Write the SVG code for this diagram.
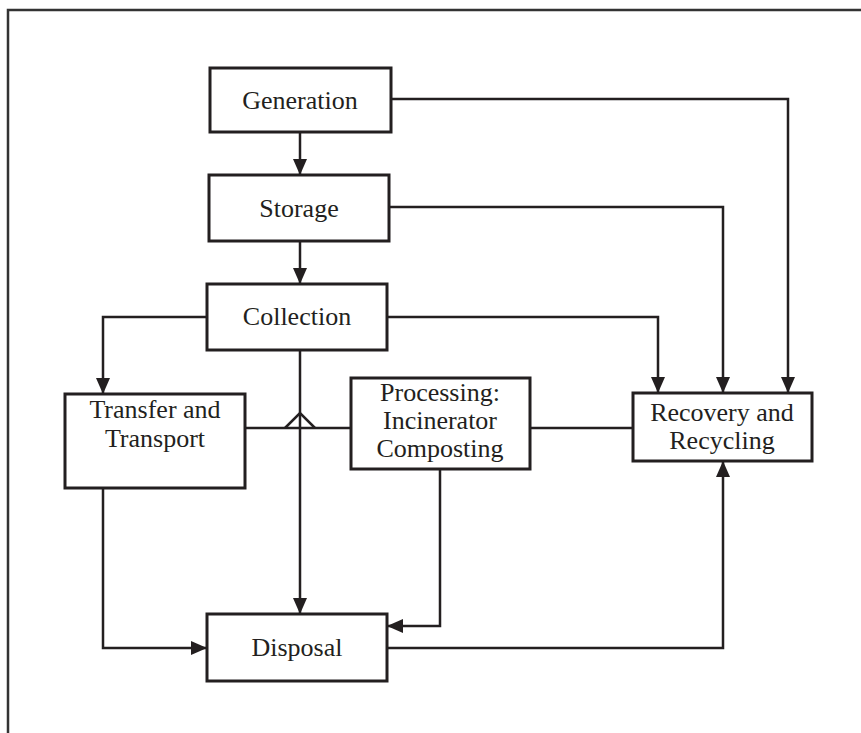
<svg xmlns="http://www.w3.org/2000/svg" width="861" height="733" viewBox="0 0 861 733">
<style>
.box{fill:#fff;stroke:#231f20;stroke-width:3}
.ln{fill:none;stroke:#231f20;stroke-width:2.5}
.arr{marker-end:url(#ah)}
text{font-family:"Liberation Serif","Times New Roman",serif;font-size:26px;fill:#231f20;text-anchor:middle}
</style>
<defs>
<marker id="ah" viewBox="0 0 16 14" refX="16" refY="7" markerWidth="16" markerHeight="14" markerUnits="userSpaceOnUse" orient="auto">
<path d="M0,0 L16,7 L0,14 z" fill="#231f20"/>
</marker>
</defs>
<rect x="0" y="0" width="861" height="733" fill="#fff"/>
<rect x="8" y="10" width="900" height="800" fill="none" stroke="#333" stroke-width="2.5"/>
<g id="connectors">
<path class="ln arr" d="M300,132 V175"/>
<path class="ln arr" d="M300,241 V284"/>
<path class="ln arr" d="M391,99 H788 V393"/>
<path class="ln arr" d="M389,207 H723 V393"/>
<path class="ln arr" d="M387,317 H658 V393"/>
<path class="ln arr" d="M207,317 H103 V394"/>
<path class="ln arr" d="M300,350 V614"/>
<path class="ln" d="M245,428 H351"/>
<path class="ln" d="M285,428 L300,413 L315,428"/>
<path class="ln" d="M530,428 H633"/>
<path class="ln arr" d="M440,469 V626 H387"/>
<path class="ln arr" d="M103,488 V648 H207"/>
<path class="ln arr" d="M387,648 H723 V461"/>
</g>
<g id="generation"><rect class="box" x="210" y="68" width="181" height="64"/><text x="300" y="109">Generation</text></g>
<g id="storage"><rect class="box" x="209" y="175" width="180" height="66"/><text x="299" y="217">Storage</text></g>
<g id="collection"><rect class="box" x="207" y="284" width="180" height="66"/><text x="297" y="325">Collection</text></g>
<g id="transfer"><rect class="box" x="65" y="394" width="180" height="94"/><text x="155" y="418">Transfer and</text><text x="155" y="447">Transport</text></g>
<g id="processing"><rect class="box" x="351" y="378" width="179" height="91"/><text x="440" y="401">Processing:</text><text x="440" y="429">Incinerator</text><text x="440" y="457">Composting</text></g>
<g id="recovery"><rect class="box" x="633" y="393" width="179" height="68"/><text x="722" y="421">Recovery and</text><text x="722" y="449">Recycling</text></g>
<g id="disposal"><rect class="box" x="207" y="614" width="180" height="67"/><text x="297" y="656">Disposal</text></g>
</svg>
